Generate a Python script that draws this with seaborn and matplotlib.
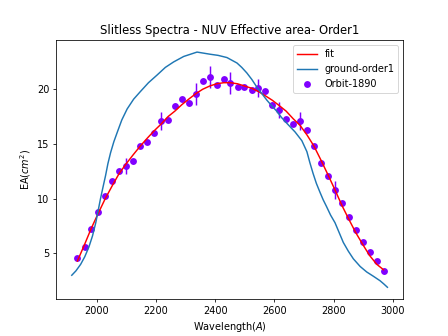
import numpy as np
import matplotlib
matplotlib.use('Agg')
import matplotlib.pyplot as plt
import seaborn as sns

# ground calibration curve (order 1)
ground_wl = [1916, 1930, 1946, 1960, 1974, 1986, 1997, 2005, 2013, 2021, 2030,
             2038, 2047, 2058, 2070, 2085, 2103, 2125, 2148, 2175, 2204, 2232,
             2260, 2294, 2339, 2384, 2410, 2440, 2474, 2490, 2507, 2524, 2541,
             2558, 2575, 2591, 2608, 2625, 2642, 2656, 2670, 2693, 2710, 2720,
             2731, 2742, 2754, 2765, 2776, 2790, 2805, 2819, 2833, 2850, 2867,
             2890, 2912, 2935, 2957, 2970, 2982]
ground_ea = [3.0, 3.4, 4.0, 4.7, 5.6, 6.6, 7.8, 8.9, 10.0, 11.0, 12.1,
             13.2, 14.2, 15.2, 16.1, 17.2, 18.2, 19.1, 19.8, 20.6, 21.3, 22.0,
             22.5, 23.0, 23.4, 23.2, 23.1, 22.9, 22.4, 22.0, 21.5, 20.9, 20.2,
             19.6, 19.0, 18.5, 18.0, 17.4, 16.9, 16.5, 16.1, 15.3, 14.3, 13.3,
             12.3, 11.4, 10.6, 9.9, 9.3, 8.5, 7.8, 6.9, 6.0, 5.2, 4.5,
             3.8, 3.3, 2.9, 2.5, 2.2, 1.9]

# orbit 1890 measurements
orbit_wl = [1935, 1959, 1982, 2006, 2029, 2053, 2076, 2100, 2123, 2147, 2170,
            2194, 2217, 2241, 2264, 2288, 2311, 2335, 2358, 2382, 2405, 2429,
            2452, 2476, 2499, 2523, 2546, 2570, 2593, 2617, 2640, 2664, 2687,
            2711, 2734, 2758, 2781, 2805, 2828, 2852, 2875, 2899, 2922, 2946, 2969]
orbit_ea = [4.6, 5.6, 7.2, 8.8, 10.2, 11.6, 12.5, 13.0, 13.4, 14.8, 15.2,
            16.0, 17.1, 17.2, 18.5, 19.1, 18.7, 19.6, 20.8, 21.1, 20.4, 20.9,
            20.6, 20.2, 20.2, 19.9, 20.1, 19.8, 18.6, 18.1, 17.3, 16.8, 17.1,
            16.3, 14.8, 13.3, 12.1, 10.8, 9.6, 8.3, 7.1, 6.0, 5.1, 4.3, 3.35]
orbit_err = [0.2, 0.2, 0.2, 0.2, 0.2, 0.2, 0.2, 0.7, 0.2, 0.2, 0.2,
             0.2, 0.8, 0.2, 0.2, 0.2, 0.2, 1.0, 0.2, 1.0, 0.2, 0.2,
             1.0, 0.2, 0.2, 0.2, 0.85, 0.2, 0.2, 0.7, 0.2, 0.2, 0.85,
             0.2, 0.2, 0.2, 0.2, 0.85, 0.2, 0.2, 0.2, 0.2, 0.2, 0.2, 0.2]
# fitted curve evaluated at the orbit wavelengths
fit_ea = [4.3, 5.8, 7.3, 8.7, 10.0, 11.2, 12.3, 13.2, 14.0, 14.8, 15.5,
          16.2, 16.8, 17.5, 18.0, 18.6, 19.1, 19.6, 20.0, 20.3, 20.5, 20.6,
          20.6, 20.5, 20.3, 20.1, 19.8, 19.4, 19.0, 18.5, 18.0, 17.3, 16.7,
          15.8, 14.8, 13.5, 12.2, 10.8, 9.4, 8.1, 6.9, 5.8, 4.8, 4.0, 3.5]

purple = '#8000ff'

fig, ax = plt.subplots(figsize=(6.4, 4.8), dpi=70)

sns.scatterplot(x=orbit_wl, y=orbit_ea, color=purple, s=50, linewidth=0,
                label='Orbit-1890', ax=ax)
ax.errorbar(orbit_wl, orbit_ea, yerr=orbit_err, fmt='none', ecolor=purple)
sns.lineplot(x=orbit_wl, y=fit_ea, color='red', sort=False, label='fit', ax=ax)
sns.lineplot(x=ground_wl, y=ground_ea, color='#1f77b4', sort=False,
             label='ground-order1', ax=ax)

# legend order: fit, ground-order1, Orbit-1890
handles, labels = ax.get_legend_handles_labels()
order = [labels.index('fit'), labels.index('ground-order1'), labels.index('Orbit-1890')]
ax.legend([handles[i] for i in order], [labels[i] for i in order], loc='upper right')

ax.set_title('Slitless Spectra - NUV Effective area- Order1')
ax.set_xlabel('Wavelength($A$)')
ax.set_ylabel('EA($cm^2$)')

plt.savefig('out.png', dpi=70)
